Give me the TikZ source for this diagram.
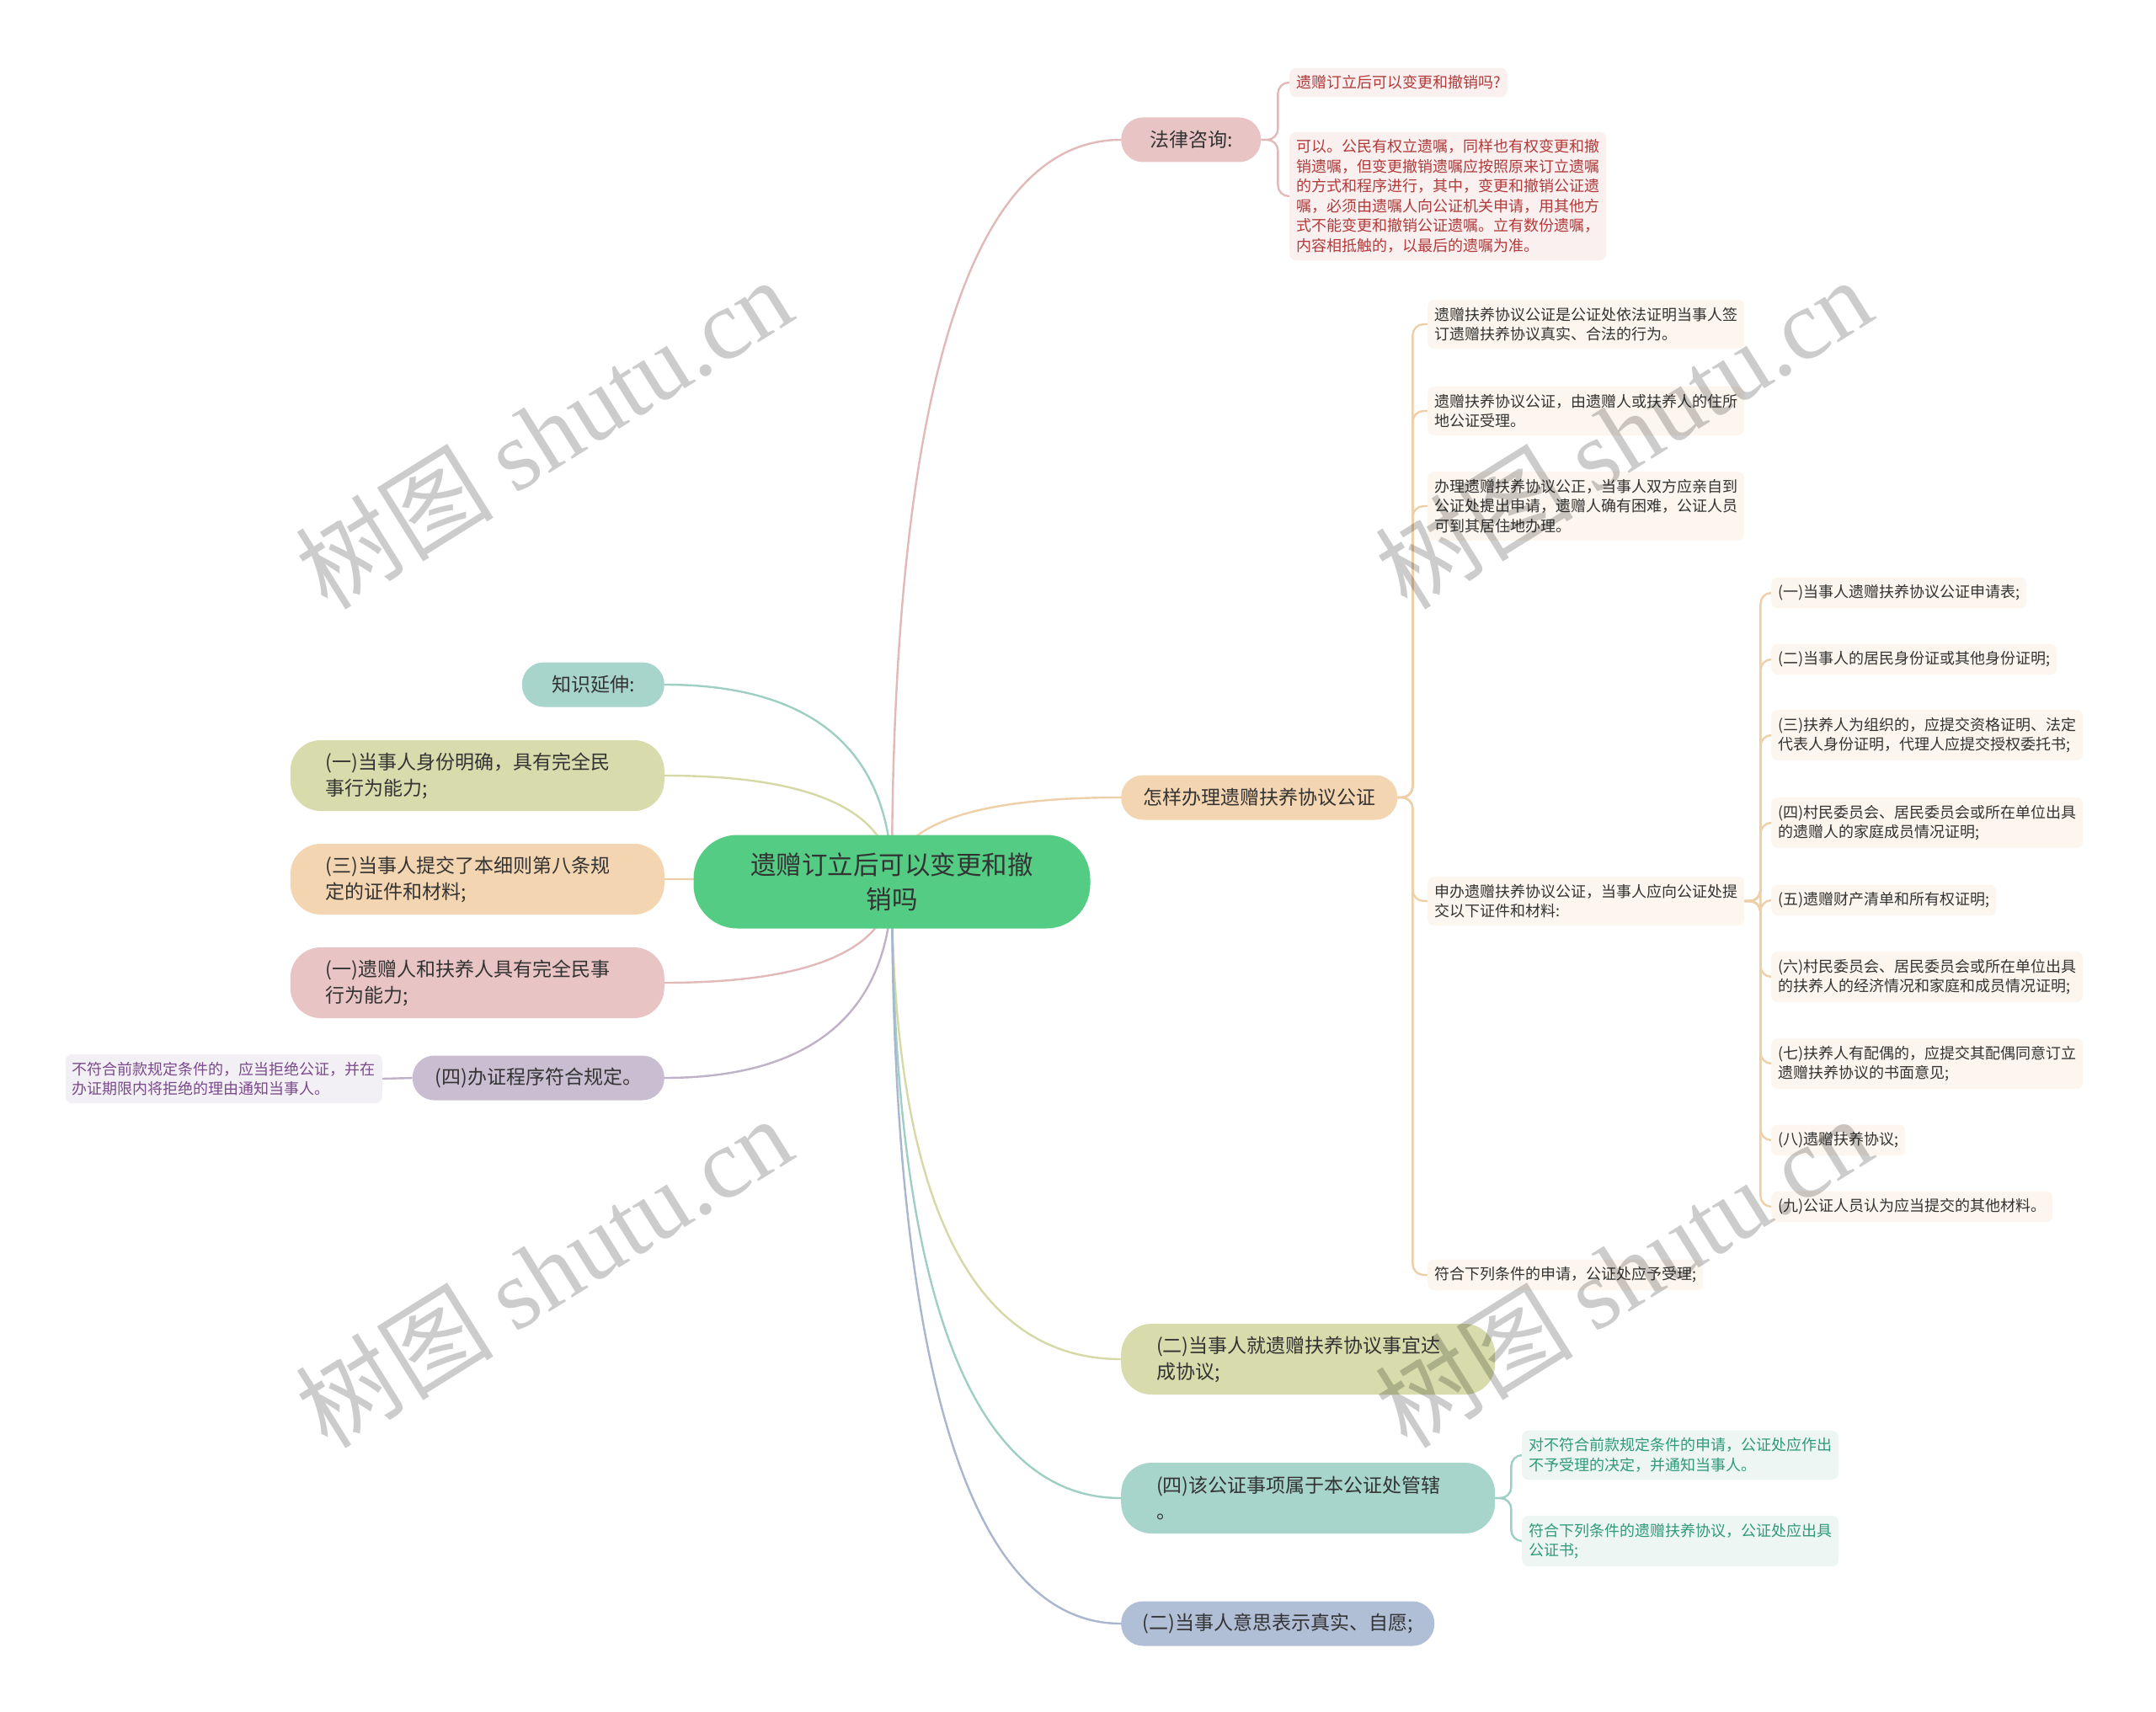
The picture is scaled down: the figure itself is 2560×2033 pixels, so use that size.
\documentclass[tikz,border=0pt]{standalone}
\usepackage{fontspec}
\setmainfont{Noto Sans CJK SC}
\newfontfamily\wmlatin{Liberation Serif}
\usetikzlibrary{backgrounds}
\definecolor{rootc}{HTML}{54CC84}
\definecolor{txt}{HTML}{333333}
\definecolor{pinkc}{HTML}{E9C4C4}
\definecolor{pinkd}{HTML}{E2B9B9}
\definecolor{pinkl}{HTML}{FAF0F0}
\definecolor{redt}{HTML}{B23A3A}
\definecolor{peachc}{HTML}{F3D5B1}
\definecolor{peachd}{HTML}{EFCFA8}
\definecolor{peachl}{HTML}{FDF6EE}
\definecolor{olivec}{HTML}{D8DCAC}
\definecolor{olived}{HTML}{D6D9A6}
\definecolor{tealc}{HTML}{A8D5CB}
\definecolor{teald}{HTML}{9FCFC4}
\definecolor{teall}{HTML}{EEF6F4}
\definecolor{tealt}{HTML}{2F9A7A}
\definecolor{bluec}{HTML}{B0BED6}
\definecolor{blued}{HTML}{A8B6CE}
\definecolor{lavc}{HTML}{C9BDD1}
\definecolor{lavd}{HTML}{BFB2C8}
\definecolor{lavl}{HTML}{F3F0F5}
\definecolor{purt}{HTML}{7A4A8C}
\begin{document}
\begin{tikzpicture}[x=1pt,y=-1pt,
  root/.style={fill=rootc, rounded corners=52pt, minimum width=471pt, minimum height=111pt,
    inner sep=0pt, align=center, text=txt, font=\fontsize{30.5}{41}\selectfont},
  lvone/.style={rounded corners=26pt, minimum height=53pt, inner xsep=0pt, inner ysep=0pt,
    align=center, text=txt, font=\fontsize{23}{31}\selectfont},
  lvtwo/.style={rounded corners=36pt, minimum height=84pt, text width=360pt, inner xsep=42pt,
    inner ysep=0pt, align=left, text=txt, font=\fontsize{23}{31}\selectfont},
  leaf/.style={rounded corners=8pt, inner xsep=8pt, inner ysep=9pt, align=left,
    font=\fontsize{18}{23.5}\selectfont},
  peachleaf/.style={leaf, fill=peachl, text=txt},
  conn/.style={line width=2.4pt},
  bconn/.style={line width=2.4pt, rounded corners=13pt},
  wm/.style={text=black, opacity=0.2, font=\fontsize{118}{120}\selectfont, inner sep=0pt}
]
% root
\node[root] (root) at (1059,1047) {遗赠订立后可以变更和撤\\销吗};

% right side
\node[lvone, fill=pinkc, minimum width=166pt, anchor=west] (law) at (1331,166) {法律咨询:};
\node[leaf, fill=pinkl, text=redt, anchor=west] (q) at (1531,98) {遗赠订立后可以变更和撤销吗?};
\node[leaf, fill=pinkl, text=redt, anchor=west] (a) at (1531,233) {可以。公民有权立遗嘱，同样也有权变更和撤\\销遗嘱，但变更撤销遗嘱应按照原来订立遗嘱\\的方式和程序进行，其中，变更和撤销公证遗\\嘱，必须由遗嘱人向公证机关申请，用其他方\\式不能变更和撤销公证遗嘱。立有数份遗嘱，\\内容相抵触的，以最后的遗嘱为准。};

\node[lvone, fill=peachc, minimum width=328pt, anchor=west] (how) at (1331,947) {怎样办理遗赠扶养协议公证};
\node[peachleaf, anchor=west] (c1) at (1695,385) {遗赠扶养协议公证是公证处依法证明当事人签\\订遗赠扶养协议真实、合法的行为。};
\node[peachleaf, anchor=west] (c2) at (1695,488) {遗赠扶养协议公证，由遗赠人或扶养人的住所\\地公证受理。};
\node[peachleaf, anchor=west] (c3) at (1695,601) {办理遗赠扶养协议公正，当事人双方应亲自到\\公证处提出申请，遗赠人确有困难，公证人员\\可到其居住地办理。};
\node[peachleaf, anchor=west] (c4) at (1695,1070) {申办遗赠扶养协议公证，当事人应向公证处提\\交以下证件和材料:};
\node[peachleaf, anchor=west] (c5) at (1695,1514) {符合下列条件的申请，公证处应予受理;};

\node[peachleaf, anchor=west] (g1) at (2103,704) {(一)当事人遗赠扶养协议公证申请表;};
\node[peachleaf, anchor=west] (g2) at (2103,783) {(二)当事人的居民身份证或其他身份证明;};
\node[peachleaf, anchor=west] (g3) at (2103,873) {(三)扶养人为组织的，应提交资格证明、法定\\代表人身份证明，代理人应提交授权委托书;};
\node[peachleaf, anchor=west] (g4) at (2103,977) {(四)村民委员会、居民委员会或所在单位出具\\的遗赠人的家庭成员情况证明;};
\node[peachleaf, anchor=west] (g5) at (2103,1069) {(五)遗赠财产清单和所有权证明;};
\node[peachleaf, anchor=west] (g6) at (2103,1160) {(六)村民委员会、居民委员会或所在单位出具\\的扶养人的经济情况和家庭和成员情况证明;};
\node[peachleaf, anchor=west] (g7) at (2103,1263) {(七)扶养人有配偶的，应提交其配偶同意订立\\遗赠扶养协议的书面意见;};
\node[peachleaf, anchor=west] (g8) at (2103,1354) {(八)遗赠扶养协议;};
\node[peachleaf, anchor=west] (g9) at (2103,1433) {(九)公证人员认为应当提交的其他材料。};

\node[lvtwo, fill=olivec, anchor=west] (agree) at (1331,1614) {(二)当事人就遗赠扶养协议事宜达\\成协议;};
\node[lvtwo, fill=tealc, anchor=west] (juris) at (1331,1779) {(四)该公证事项属于本公证处管辖\\。};
\node[leaf, fill=teall, text=tealt, anchor=west] (t1) at (1807,1728) {对不符合前款规定条件的申请，公证处应作出\\不予受理的决定，并通知当事人。};
\node[leaf, fill=teall, text=tealt, anchor=west] (t2) at (1807,1830) {符合下列条件的遗赠扶养协议，公证处应出具\\公证书;};
\node[lvone, fill=bluec, minimum width=372pt, anchor=west] (will) at (1331,1928) {(二)当事人意思表示真实、自愿;};

% left side
\node[lvone, fill=tealc, minimum width=169pt, anchor=east] (ext) at (789,813) {知识延伸:};
\node[lvtwo, fill=olivec, anchor=east] (ident) at (789,921) {(一)当事人身份明确，具有完全民\\事行为能力;};
\node[lvtwo, fill=peachc, anchor=east] (subm) at (789,1044) {(三)当事人提交了本细则第八条规\\定的证件和材料;};
\node[lvtwo, fill=pinkc, anchor=east] (capa) at (789,1167) {(一)遗赠人和扶养人具有完全民事\\行为能力;};
\node[lvone, fill=lavc, minimum width=299pt, anchor=east] (proc) at (789,1280) {(四)办证程序符合规定。};
\node[leaf, fill=lavl, text=purt, anchor=east] (rej) at (454,1281) {不符合前款规定条件的，应当拒绝公证，并在\\办证期限内将拒绝的理由通知当事人。};

\begin{scope}[on background layer]
\fill[white] (0,0) rectangle (2560,2033);
% root connectors
\draw[conn, draw=pinkd]  (root.center) .. controls +(0,-440) and +(-218,0) .. (law.west);
\draw[conn, draw=peachd] (root.center) .. controls +(0,-50) and +(-218,0) .. (how.west);
\draw[conn, draw=olived] (root.center) .. controls +(0,283) and +(-218,0) .. (agree.west);
\draw[conn, draw=teald]  (root.center) .. controls +(0,366) and +(-218,0) .. (juris.west);
\draw[conn, draw=blued]  (root.center) .. controls +(0,440) and +(-218,0) .. (will.west);
\draw[conn, draw=teald]  (root.center) .. controls +(0,-117) and +(216,0) .. (ext.east);
\draw[conn, draw=olived] (root.center) .. controls +(0,-63) and +(216,0) .. (ident.east);
\draw[conn, draw=peachd] (root.center) .. controls +(0,0) and +(216,0) .. (subm.east);
\draw[conn, draw=pinkd]  (root.center) .. controls +(0,60) and +(216,0) .. (capa.east);
\draw[conn, draw=lavd]   (root.center) .. controls +(0,116) and +(216,0) .. (proc.east);
% brackets
\foreach \c in {q,a} \draw[bconn, draw=pinkd] (law.east) -- ++(20,0) |- (\c.west);
\foreach \c in {c1,c2,c3,c4,c5} \draw[bconn, draw=peachd] (how.east) -- ++(18,0) |- (\c.west);
\foreach \c in {g1,g2,g3,g4,g5,g6,g7,g8,g9} \draw[bconn, draw=peachd] (c4.east) -- ++(19,0) |- (\c.west);
\foreach \c in {t1,t2} \draw[bconn, draw=teald] (juris.east) -- ++(19,0) |- (\c.west);
\draw[conn, draw=lavd] (proc.west) -- (rej.east);
\end{scope}

% watermarks
\foreach \p in {(645,514),(1927,514),(645,1510),(1927,1510)}
  \node[wm, rotate=32] at \p {树图 {\wmlatin shutu.cn}};

\useasboundingbox (0,0) rectangle (2560,2033);
\end{tikzpicture}
\end{document}
